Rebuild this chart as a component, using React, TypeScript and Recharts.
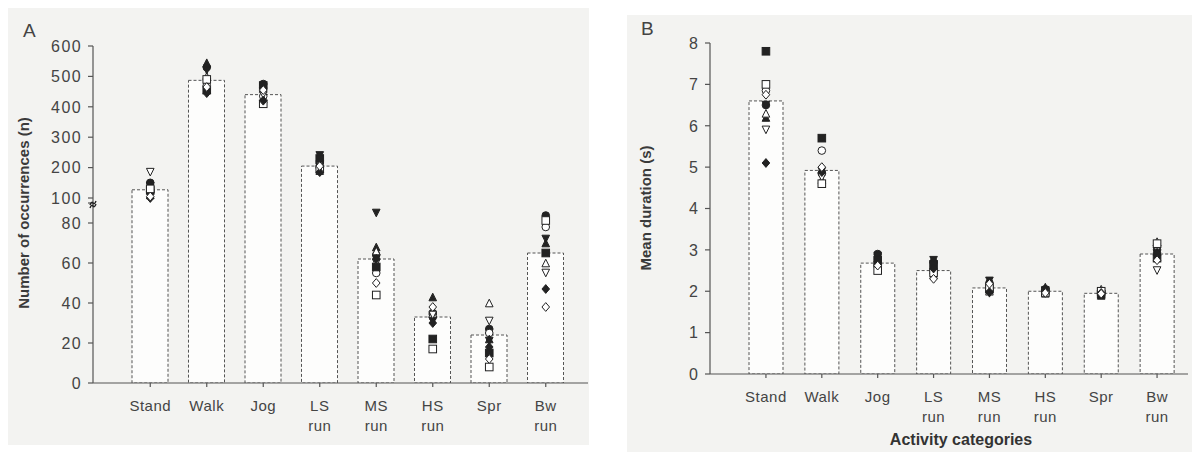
import { ComposedChart, Bar, Scatter, XAxis, YAxis } from "recharts";

const categories = ["Stand", "Walk", "Jog", "LS run", "MS run", "HS run", "Spr", "Bw run"];

// panel A: number of occurrences
const meanA = [127, 487, 440, 205, 62, 33, 24, 65];
const ticksA = [0, 20, 40, 60, 80, 100, 200, 300, 400, 500, 600];
const breakA = 96;

// one array per subject, same order as categories
const a1 = [150, 530, 475, 215, 64, 35, 27, 86];
const a2 = [120, 470, 435, 200, 55, 33, 25, 78];
const a3 = [135, 545, 460, 225, 68, 43, 22, 70];
const a4 = [110, 500, 425, 190, 66, 36, 40, 60];
const a5 = [140, 520, 450, 240, 88, 31, 21, 72];
const a6 = [185, 480, 440, 210, 60, 34, 31, 55];
const a7 = [125, 455, 470, 230, 58, 22, 15, 65];
const a8 = [130, 490, 410, 195, 44, 17, 8, 82];
const a9 = [100, 445, 420, 185, 62, 30, 18, 47];
const a10 = [105, 465, 455, 205, 50, 38, 12, 38];

// panel B: mean duration (s)
const meanB = [6.6, 4.92, 2.68, 2.5, 2.08, 2.0, 1.95, 2.9];
const ticksB = [0, 1, 2, 3, 4, 5, 6, 7, 8];

const b1 = [6.5, 4.85, 2.9, 2.7, 2.2, 2.05, 2.0, 3.0];
const b2 = [6.85, 5.4, 2.6, 2.5, 2.1, 2.0, 1.95, 3.1];
const b3 = [6.2, 4.95, 2.8, 2.6, 2.15, 2.1, 1.9, 2.95];
const b4 = [6.3, 4.7, 2.7, 2.4, 2.0, 1.95, 2.05, 3.2];
const b5 = [6.5, 4.9, 2.85, 2.75, 2.25, 2.02, 1.97, 2.85];
const b6 = [5.9, 4.75, 2.55, 2.35, 1.95, 1.98, 1.92, 2.5];
const b7 = [7.8, 5.7, 2.75, 2.65, 2.05, 2.0, 1.93, 2.8];
const b8 = [7.0, 4.6, 2.5, 2.45, 2.1, 1.97, 2.0, 3.15];
const b9 = [5.1, 4.88, 2.65, 2.55, 1.98, 2.03, 1.96, 2.9];
const b10 = [6.75, 5.0, 2.62, 2.3, 2.18, 1.96, 1.94, 2.75];

const markers = [
  "circle", "circleOpen", "up", "upOpen", "down",
  "downOpen", "square", "squareOpen", "diamond", "diamondOpen",
];
const subjectsA = [a1, a2, a3, a4, a5, a6, a7, a8, a9, a10];
const subjectsB = [b1, b2, b3, b4, b5, b6, b7, b8, b9, b10];

// broken axis for panel A: 0-80 stretched, 80-100 squeezed, 100-600 compressed
const scaleA = (v: number) =>
  v <= 80 ? v * 2 : v <= 100 ? 160 + (v - 80) * 1.25 : 185 + (v - 100) * 0.304;

const dataA = categories.map((cat, i) => {
  const row: any = { cat, mean: scaleA(meanA[i]) };
  subjectsA.forEach((s, j) => (row["s" + j] = scaleA(s[i])));
  return row;
});
const dataB = categories.map((cat, i) => {
  const row: any = { cat, mean: meanB[i] };
  subjectsB.forEach((s, j) => (row["s" + j] = s[i]));
  return row;
});

const INK = "#222";
const TXT = "#444";
const FONT = "'Liberation Sans', Arial, sans-serif";

const Marker = ({ cx, cy, kind }: any) => {
  if (cx == null || cy == null) return null;
  const open = kind.endsWith("Open");
  const fill = open ? "#fff" : INK;
  const base = kind.replace("Open", "");
  const r = 3.8;
  const common = { fill, stroke: INK, strokeWidth: 1 };
  if (base === "circle") return <circle cx={cx} cy={cy} r={r} {...common} />;
  if (base === "square")
    return <rect x={cx - r} y={cy - r} width={r * 2} height={r * 2} {...common} />;
  if (base === "up")
    return <polygon points={`${cx},${cy - r} ${cx + r},${cy + r} ${cx - r},${cy + r}`} {...common} />;
  if (base === "down")
    return <polygon points={`${cx - r},${cy - r} ${cx + r},${cy - r} ${cx},${cy + r}`} {...common} />;
  return <polygon points={`${cx},${cy - r - 0.6} ${cx + r},${cy} ${cx},${cy + r + 0.6} ${cx - r},${cy}`} {...common} />;
};

const CatTick = ({ x, y, payload }: any) => {
  const parts = String(payload.value).split(" ");
  return (
    <text x={x} y={y} textAnchor="middle" fill={TXT} fontSize={15} fontFamily={FONT} letterSpacing={0.5}>
      {parts.map((p, i) => (
        <tspan key={i} x={x} dy={20}>
          {p}
        </tspan>
      ))}
    </text>
  );
};

const labelA = (v: number) => [...ticksA, breakA].find((t) => Math.abs(scaleA(t) - v) < 0.01);

const TickA = ({ x, y, payload }: any) => {
  const raw = labelA(payload.value);
  if (raw === breakA) {
    const ax = x + 11;
    return (
      <path
        d={`M${ax - 3},${y + 2} q1.5,-4 3,-2 t3,-2 M${ax - 3},${y + 5} q1.5,-4 3,-2 t3,-2`}
        stroke={INK}
        fill="none"
        strokeWidth={1.4}
      />
    );
  }
  return (
    <text x={x} y={y} dy="0.36em" textAnchor="end" fill={TXT} fontSize={16} fontFamily={FONT} letterSpacing={1.4}>
      {raw}
    </text>
  );
};

const TickB = ({ x, y, payload }: any) => (
  <text x={x} y={y} dy="0.36em" textAnchor="end" fill={TXT} fontSize={16} fontFamily={FONT} letterSpacing={1}>
    {payload.value}
  </text>
);

const axisStroke = { stroke: "#555", strokeWidth: 1.2 };

const Panel = ({ data, yTicks, yDomain, tick, margin, width, barSize, yWidth, xPad }: any) => (
  <ComposedChart width={width} height={452} data={data} margin={margin} barCategoryGap={0}>
    <XAxis
      dataKey="cat"
      type="category"
      tick={<CatTick />}
      tickSize={4}
      tickMargin={4}
      height={margin.xh}
      axisLine={axisStroke}
      tickLine={axisStroke}
      interval={0}
      padding={xPad}
    />
    <YAxis
      type="number"
      domain={yDomain}
      ticks={yTicks}
      tick={tick}
      width={yWidth}
      tickSize={5}
      tickMargin={6}
      axisLine={axisStroke}
      tickLine={axisStroke}
      interval={0}
      allowDataOverflow
    />
    <Bar
      dataKey="mean"
      barSize={barSize}
      fill="#fdfdfc"
      stroke="#555"
      strokeWidth={1}
      strokeDasharray="3 2"
      isAnimationActive={false}
    />
    {markers.map((m, j) => (
      <Scatter
        key={m}
        dataKey={"s" + j}
        shape={(p: any) => <Marker {...p} kind={m} />}
        isAnimationActive={false}
      />
    ))}
  </ComposedChart>
);

const bg = "#f3f3f1";

export default function App() {
  return (
    <div style={{ position: "absolute", left: 0, top: 0, width: 1192, height: 452, background: "#fff", fontFamily: FONT, overflow: "hidden" }}>
      <div style={{ position: "absolute", left: 8, top: 8, width: 581, height: 437, background: bg }} />
      <div style={{ position: "absolute", left: 627, top: 15, width: 565, height: 437, background: bg }} />

      <div style={{ position: "absolute", left: 0, top: 0 }}>
        <Panel
          data={dataA}
          width={600}
          yTicks={[...ticksA, breakA].map(scaleA)}
          yDomain={[0, scaleA(600)]}
          tick={<TickA />}
          margin={{ top: 46, right: 12, bottom: 39, left: 50, xh: 30 }}
          yWidth={43}
          barSize={36}
          xPad={{ left: 29, right: 14 }}
        />
      </div>
      <div style={{ position: "absolute", left: 600, top: 0 }}>
        <Panel
          data={dataB}
          width={592}
          yTicks={ticksB}
          yDomain={[0, 8]}
          tick={<TickB />}
          margin={{ top: 43, right: 4, bottom: 30, left: 60, xh: 48 }}
          yWidth={50}
          barSize={34}
          xPad={{ left: 28, right: 3 }}
        />
      </div>

      <div style={{ position: "absolute", left: 23, top: 20, fontSize: 19, color: TXT }}>A</div>
      <div style={{ position: "absolute", left: 641, top: 18, fontSize: 19, color: TXT }}>B</div>

      <div
        style={{
          position: "absolute", left: 23, top: 213, transform: "translate(-50%, -50%) rotate(-90deg)",
          whiteSpace: "nowrap", fontSize: 15, fontWeight: "bold", color: "#3a3a3a",
        }}
      >
        Number of occurrences (n)
      </div>
      <div
        style={{
          position: "absolute", left: 645, top: 208, transform: "translate(-50%, -50%) rotate(-90deg)",
          whiteSpace: "nowrap", fontSize: 15, fontWeight: "bold", color: "#3a3a3a",
        }}
      >
        Mean duration (s)
      </div>
      <div
        style={{
          position: "absolute", left: 961, top: 440, transform: "translate(-50%, -50%)",
          whiteSpace: "nowrap", fontSize: 16, fontWeight: "bold", color: "#333",
        }}
      >
        Activity categories
      </div>
    </div>
  );
}
